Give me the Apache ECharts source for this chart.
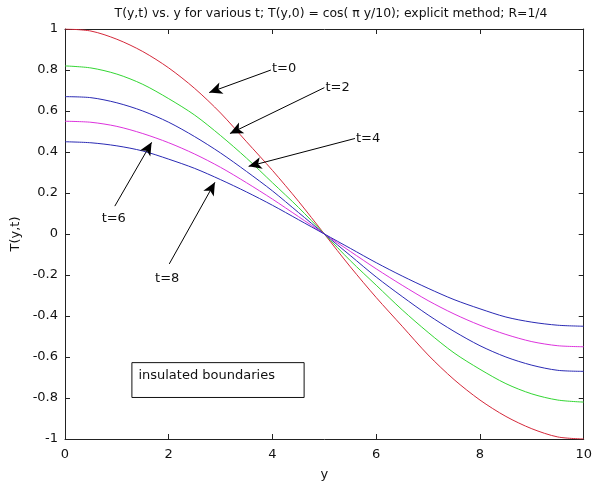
<!DOCTYPE html>
<html>
<head>
<meta charset="utf-8">
<script src="https://cdn.jsdelivr.net/npm/echarts@6/dist/echarts.min.js"></script>
<style>
  html, body { margin: 0; padding: 0; background: #fff; }
  #chart { width: 595px; height: 486px; }
</style>
</head>
<body>
<div id="chart"></div>
<script>
// positions along y (0..10, step 0.5)
const yPos = [0, 0.5, 1, 1.5, 2, 2.5, 3, 3.5, 4, 4.5, 5, 5.5, 6, 6.5, 7, 7.5, 8, 8.5, 9, 9.5, 10];

// T(y,t)
const t0 = [1, 0.99, 0.95, 0.89, 0.81, 0.71, 0.59, 0.45, 0.31, 0.16, 0, -0.16, -0.31, -0.45, -0.59, -0.71, -0.81, -0.89, -0.95, -0.99, -1];
const t2 = [0.82, 0.81, 0.78, 0.73, 0.66, 0.58, 0.48, 0.37, 0.25, 0.13, 0, -0.13, -0.25, -0.37, -0.48, -0.58, -0.66, -0.73, -0.78, -0.81, -0.82];
const t4 = [0.67, 0.665, 0.64, 0.60, 0.545, 0.475, 0.395, 0.305, 0.21, 0.105, 0, -0.105, -0.21, -0.305, -0.395, -0.475, -0.545, -0.60, -0.64, -0.665, -0.67];
const t6 = [0.55, 0.545, 0.525, 0.49, 0.445, 0.39, 0.325, 0.25, 0.17, 0.085, 0, -0.085, -0.17, -0.25, -0.325, -0.39, -0.445, -0.49, -0.525, -0.545, -0.55];
const t8 = [0.45, 0.445, 0.43, 0.405, 0.365, 0.32, 0.265, 0.205, 0.14, 0.07, 0, -0.07, -0.14, -0.205, -0.265, -0.32, -0.365, -0.405, -0.43, -0.445, -0.45];

const seriesNames = ['t=0', 't=2', 't=4', 't=6', 't=8'];
const seriesData = [t0, t2, t4, t6, t8];
const colors = ['#d4283a', '#33d633', '#2a2ab4', '#dd33dd', '#2a2ab4'];

// annotation arrows: text anchor, arrow start -> arrow head (data coords)
const notes = [
  { text: 't=0', at: [3.99, 0.806], align: 'left',   from: [3.97, 0.80],  to: [2.78, 0.69] },
  { text: 't=2', at: [5.02, 0.714], align: 'left',   from: [5.00, 0.714], to: [3.18, 0.49] },
  { text: 't=4', at: [5.61, 0.466], align: 'left',   from: [5.59, 0.466], to: [3.54, 0.33] },
  { text: 't=6', at: [0.94, 0.073], align: 'center', from: [0.96, 0.136], to: [1.67, 0.447] },
  { text: 't=8', at: [1.97, -0.218], align: 'center', from: [2.01, -0.146], to: [2.89, 0.252] }
];

const font = 'DejaVu Sans';
const chart = echarts.init(document.getElementById('chart'));

const axisCommon = {
  type: 'value',
  axisLine: { show: true, onZero: false, lineStyle: { color: '#222', width: 1 } },
  axisTick: { show: true, inside: true, length: 5, lineStyle: { color: '#222' } },
  splitLine: { show: false }
};

const option = {
  animation: false,
  backgroundColor: '#fff',
  title: {
    text: 'T(y,t) vs. y for various t; T(y,0) = cos( \u03c0 y/10); explicit method; R=1/4',
    left: 326,
    textAlign: 'center',
    top: 3,
    textStyle: { fontFamily: font, fontSize: 12.4, fontWeight: 'normal', color: '#111' }
  },
  grid: { left: 65, right: 8, top: 29, bottom: 45 },
  xAxis: [
    Object.assign({}, axisCommon, {
      min: 0, max: 10, interval: 2, position: 'bottom',
      name: 'y', nameLocation: 'middle', nameGap: 29,
      nameTextStyle: { fontFamily: font, fontSize: 13, color: '#111' },
      axisLabel: { fontFamily: font, fontSize: 13, color: '#111', margin: 9 }
    }),
    Object.assign({}, axisCommon, {
      min: 0, max: 10, interval: 2, position: 'top', axisLabel: { show: false }
    })
  ],
  yAxis: [
    Object.assign({}, axisCommon, {
      min: -1, max: 1, interval: 0.2, position: 'left',
      name: 'T(y,t)', nameLocation: 'middle', nameGap: 42, nameRotate: 90,
      nameTextStyle: { fontFamily: font, fontSize: 13, color: '#111' },
      axisLabel: {
        fontFamily: font, fontSize: 13, color: '#111', margin: 7,
        formatter: v => String(Math.round(v * 10) / 10)
      }
    }),
    Object.assign({}, axisCommon, {
      min: -1, max: 1, interval: 0.2, position: 'right', axisLabel: { show: false }
    })
  ],
  series: seriesNames.map((name, i) => ({
    name: name,
    type: 'line',
    xAxisIndex: 0,
    yAxisIndex: 0,
    data: yPos.map((y, k) => [y, seriesData[i][k]]),
    showSymbol: false,
    smooth: 0.3,
    lineStyle: { color: colors[i], width: 1 },
    itemStyle: { color: colors[i] },
    silent: true,
    markLine: i === 0 ? {
      silent: true,
      symbol: ['none', 'arrow'],
      symbolSize: [9, 13],
      label: { show: false },
      lineStyle: { color: '#000', width: 1, type: 'solid' },
      itemStyle: { color: '#000' },
      data: notes.map(n => [{ coord: n.from }, { coord: n.to }])
    } : undefined
  }))
};

chart.setOption(option);

// text labels and the boundary note, placed through the grid's scales
const px = p => chart.convertToPixel({ gridIndex: 0 }, p);
const boxA = px([1.28, -0.625]);
const boxB = px([4.60, -0.795]);
const graphic = notes.map(n => {
  const p = px(n.at);
  return {
    type: 'text', x: p[0], y: p[1], silent: true,
    style: {
      text: n.text, fill: '#111', font: '13px "' + font + '"',
      align: n.align, verticalAlign: 'middle'
    }
  };
});
graphic.push({
  type: 'rect', silent: true,
  shape: { x: boxA[0] + 0.5, y: boxA[1] + 0.5, width: boxB[0] - boxA[0], height: boxB[1] - boxA[1] },
  style: { fill: '#fff', stroke: '#111', lineWidth: 1 }
});
graphic.push({
  type: 'text', silent: true, x: boxA[0] + 7, y: boxA[1] + 13,
  style: { text: 'insulated boundaries', fill: '#111', font: '13px "' + font + '"', verticalAlign: 'middle' }
});
chart.setOption({ graphic: graphic });
</script>
</body>
</html>
